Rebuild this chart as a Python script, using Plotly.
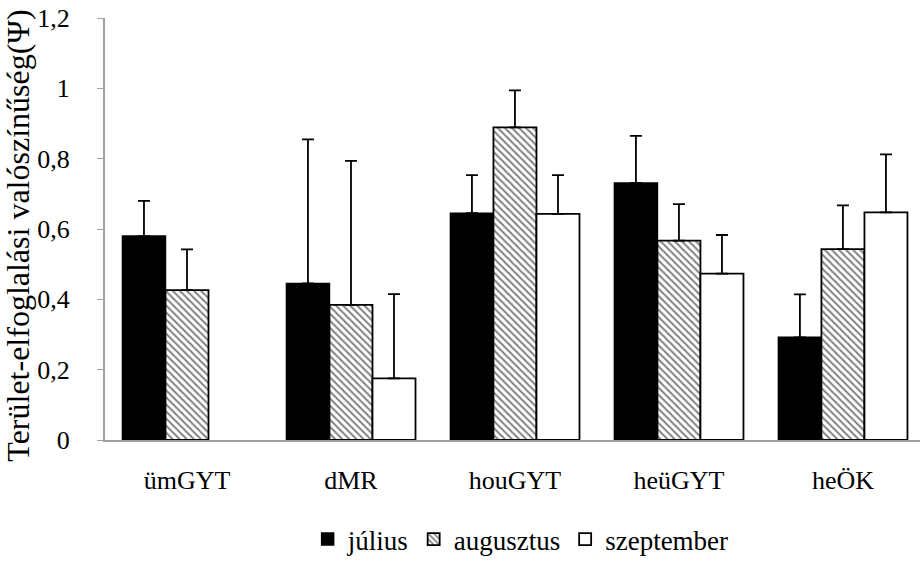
import plotly.graph_objects as go

categories = ["ümGYT", "dMR", "houGYT", "heüGYT", "heÖK"]
julius = [0.58, 0.445, 0.645, 0.731, 0.292]
julius_err = [0.10, 0.41, 0.108, 0.134, 0.122]
augusztus = [0.426, 0.384, 0.889, 0.567, 0.543]
augusztus_err = [0.116, 0.41, 0.105, 0.104, 0.124]
szeptember = [None, 0.175, 0.643, 0.473, 0.647]
szeptember_err = [0, 0.24, 0.11, 0.11, 0.165]
y_ticks = [0, 0.2, 0.4, 0.6, 0.8, 1.0, 1.2]
y_title = "Terület-elfoglalási valószínűség(Ψ)"

FONT = "Liberation Serif, Times New Roman, serif"

def err(vals):
    return dict(type="data", array=vals, arrayminus=[0] * len(vals), symmetric=False,
                color="black", thickness=1.8, width=6)

fig = go.Figure()
fig.add_bar(name="július", x=categories, y=julius, error_y=err(julius_err),
            marker=dict(color="black", line=dict(color="black", width=1.5)))
fig.add_bar(name="augusztus", x=categories, y=augusztus, error_y=err(augusztus_err),
            marker=dict(color="white", line=dict(color="black", width=1.8),
                        pattern=dict(shape="\\", fgcolor="black", bgcolor="white",
                                     size=5, solidity=0.4)))
fig.add_bar(name="szeptember", x=categories, y=szeptember, error_y=err(szeptember_err),
            marker=dict(color="white", line=dict(color="black", width=1.8)))

fig.update_layout(
    width=920, height=564,
    margin=dict(l=105, r=0, t=18, b=115),
    paper_bgcolor="white", plot_bgcolor="white",
    barmode="group", bargap=0.213, bargroupgap=0,
    separators=", ",
    font=dict(family=FONT, color="black", size=22),
    legend=dict(orientation="h", x=0.51, xanchor="center", y=-0.237, yanchor="middle",
                font=dict(family=FONT, size=27, color="black"), itemwidth=30,
                traceorder="normal"),
    showlegend=True,
    annotations=[dict(text=y_title, xref="paper", yref="paper",
                      x=-86.5 / 815, y=0.483, xanchor="center", yanchor="middle",
                      textangle=-90, showarrow=False,
                      font=dict(family=FONT, size=32, color="black"))],
)
fig.update_xaxes(type="category", range=[-0.5, 4.47], showline=True, linecolor="#a0a0a0",
                 linewidth=2, ticks="", tickfont=dict(family=FONT, size=26, color="black"),
                 ticklabelstandoff=16, showgrid=False, zeroline=False, automargin=False)
fig.update_yaxes(range=[0, 1.2], tickvals=y_ticks, showline=True, linecolor="#a0a0a0",
                 linewidth=2, ticks="outside", ticklen=6, tickcolor="#a0a0a0",
                 tickfont=dict(family=FONT, size=26, color="black"), ticklabelstandoff=22,
                 ticklabeloverflow="allow",
                 showgrid=False, zeroline=False, automargin=False)

fig.write_html("out.html", config={"displayModeBar": False},
               post_script="document.body.style.margin='0';")
